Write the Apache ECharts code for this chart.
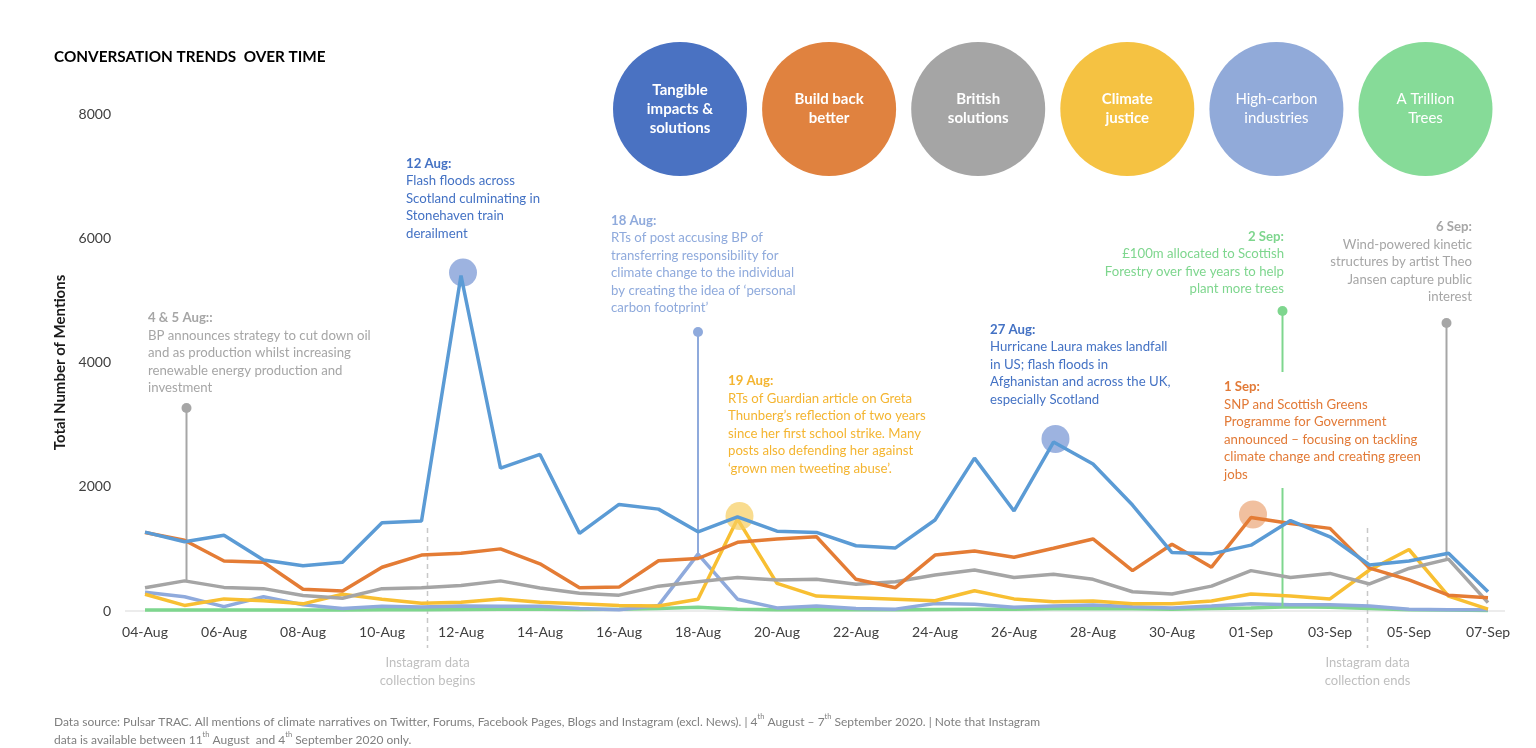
<!DOCTYPE html>
<html><head><meta charset="utf-8">
<script src="https://cdn.jsdelivr.net/npm/echarts@6/dist/echarts.min.js"></script>
<style>html,body{margin:0;padding:0;background:#fff}#c{width:1536px;height:748px}</style>
</head><body><div id="c"></div>
<script>
// ---------- data ----------
const dates = ['04-Aug','05-Aug','06-Aug','07-Aug','08-Aug','09-Aug','10-Aug','11-Aug','12-Aug','13-Aug',
  '14-Aug','15-Aug','16-Aug','17-Aug','18-Aug','19-Aug','20-Aug','21-Aug','22-Aug','23-Aug',
  '24-Aug','25-Aug','26-Aug','27-Aug','28-Aug','29-Aug','30-Aug','31-Aug',
  '01-Sep','02-Sep','03-Sep','04-Sep','05-Sep','06-Sep','07-Sep'];
const seriesNames = ['Tangible impacts & solutions','Build back better','British solutions','Climate justice','High-carbon industries','A Trillion Trees'];
const legendLabels = ['Tangible\nimpacts &\nsolutions','Build back\nbetter','British\nsolutions','Climate\njustice','High-carbon\nindustries','A Trillion\nTrees'];
const tangible   = [1270,1115,1220,820,730,785,1420,1450,5400,2300,2520,1250,1715,1640,1275,1515,1285,1265,1050,1015,1465,2460,1610,2720,2365,1705,940,920,1060,1455,1195,740,805,930,310];
const buildBack  = [1265,1140,805,785,350,320,705,900,930,1000,760,375,385,810,845,1105,1160,1195,510,375,900,965,865,1010,1160,650,1075,705,1505,1410,1330,690,500,255,215];
const british    = [375,485,380,360,250,205,360,375,410,485,370,285,255,400,470,540,500,510,430,470,580,660,540,590,510,310,275,400,650,540,605,435,685,835,135];
const climateJ   = [270,90,195,165,115,270,190,125,140,195,140,115,90,80,190,1480,445,240,215,190,165,325,195,150,160,115,115,160,275,240,195,660,990,240,30];
const highCarbon = [300,230,70,230,100,40,75,65,80,75,75,40,20,90,915,190,50,80,40,30,120,110,60,80,95,70,50,80,115,100,100,80,30,20,20];
const trees      = [15,15,15,15,15,15,20,20,25,30,30,25,30,40,60,30,20,20,20,20,25,30,30,35,40,35,30,40,50,70,60,40,20,15,10];
const yMin = 0, yMax = 8000, yStep = 2000;

// ---------- styles ----------
const FONT = 'Lato, "Open Sans", sans-serif';
const lineColors = ['#5B9BD5','#E47C35','#A5A5A5','#F8BF32','#8FAADC','#7ED68E'];
const circleColors = ['#4A72C2','#E0823F','#A5A5A5','#F5C242','#91AAD9','#86DB98'];
const allData = [tangible, buildBack, british, climateJ, highCarbon, trees];

const highlight = {
  0: [{coord:['12-Aug', tangible[8]], color:'rgba(140,166,218,0.85)'}, {coord:['27-Aug', tangible[23]], color:'rgba(140,166,218,0.85)'}],
  1: [{coord:['01-Sep', buildBack[28]], color:'rgba(232,150,95,0.6)'}],
  3: [{coord:['19-Aug', climateJ[15]], color:'rgba(246,205,95,0.7)'}]
};

const series = [];
[5,4,3,2,1,0].forEach(i => {
  const s = {
    name: seriesNames[i], type:'line', data: allData[i], showSymbol:false, smooth:false,
    lineStyle:{width:3.5, color: lineColors[i]}, itemStyle:{color: lineColors[i]}, z: 2 + (5-i)
  };
  if (highlight[i]) {
    s.markPoint = {
      symbol:'circle', symbolSize:28, symbolOffset:[2,-3], label:{show:false}, silent:true,
      data: highlight[i].map(h => ({coord:h.coord, itemStyle:{color:h.color}}))
    };
  }
  series.push(s);
});

const chart = echarts.init(document.getElementById('c'));
chart.setOption({
  animation:false,
  backgroundColor:'#fff',
  grid:{left:145, right:48, top:114, bottom:137},
  xAxis:{
    type:'category', data:dates, boundaryGap:false,
    axisLine:{show:false}, axisTick:{show:false},
    axisLabel:{interval:1, fontFamily:FONT, fontSize:14, color:'#404040', margin:14}
  },
  yAxis:{
    type:'value', min:yMin, max:yMax, interval:yStep,
    axisLine:{show:false}, axisTick:{show:false}, splitLine:{show:false},
    axisLabel:{fontFamily:FONT, fontSize:14, color:'#404040', margin:34, formatter: v => String(v)},
    name:'Total Number of Mentions', nameLocation:'middle', nameRotate:90, nameGap:66,
    nameTextStyle:{fontFamily:FONT, fontSize:15, fontWeight:'bold', color:'#1a1a1a'}
  },
  series: series
});

// ---------- annotations ----------
const px = (d, v) => chart.convertToPixel({gridIndex:0}, [d, v]);
const g = [];
const zeroL = px(dates[0], 0), zeroR = px(dates[dates.length-1], 0);
g.push({type:'line', shape:{x1:zeroL[0]-20, y1:zeroL[1], x2:zeroR[0]+17, y2:zeroR[1]}, style:{stroke:'#D9D9D9', lineWidth:1}, z:1});

// title
g.push({type:'text', style:{x:54, y:57, text:'CONVERSATION TRENDS  OVER TIME', font:'bold 15.3px '+FONT, fill:'#000', verticalAlign:'middle'}});

// legend circles
legendLabels.forEach((t, i) => {
  const cx = 680 + i*149.1, cy = 109;
  g.push({type:'circle', shape:{cx:cx, cy:cy, r:67}, style:{fill:circleColors[i]}});
  g.push({type:'text', style:{x:cx, y:cy, text:t, align:'center', verticalAlign:'middle',
    font:(i<4?'bold ':'')+'15px '+FONT, fill:'#fff', lineHeight:19}});
});

function note(x, yTop, head, lines, color, align) {
  const txt = ['{h|'+head+'}'].concat(lines.map(l => '{b|'+l+'}')).join('\n');
  g.push({type:'text', z:5, style:{x:x, y:yTop, text:txt, align:align||'left', verticalAlign:'top',
    rich:{h:{fontFamily:FONT, fontSize:13.2, fontWeight:'bold', fill:color, lineHeight:17.5},
          b:{fontFamily:FONT, fontSize:13.2, fill:color, lineHeight:17.5}}}});
}
note(148, 309, '4 & 5 Aug::', ['BP announces strategy to cut down oil','and as production whilst increasing','renewable energy production and','investment'], '#A6A6A6');
note(406, 154.5, '12 Aug:', ['Flash floods across','Scotland culminating in','Stonehaven train','derailment'], '#4472C4');
note(611, 211.5, '18 Aug:', ['RTs of post accusing BP of','transferring responsibility for','climate change to the individual','by creating the idea of \u2018personal','carbon footprint\u2019'], '#8FAADC');
note(728, 372, '19 Aug:', ['RTs of Guardian article on Greta','Thunberg\u2019s reflection of two years','since her first school strike. Many','posts also defending her against','\u2018grown men tweeting abuse\u2019.'], '#F4B531');
note(990, 320.5, '27 Aug:', ['Hurricane Laura makes landfall','in US; flash floods in','Afghanistan and across the UK,','especially Scotland'], '#4472C4');
note(1284, 227.5, '2 Sep:', ['\u00a3100m allocated to Scottish','Forestry over five years to help','plant more trees'], '#7ED68E', 'right');
note(1224, 378, '1 Sep:', ['SNP and Scottish Greens','Programme for Government','announced \u2013 focusing on tackling','climate change and creating green','jobs'], '#E27A37');
note(1472, 218, '6 Sep:', ['Wind-powered kinetic','structures by artist Theo','Jansen capture public','interest'], '#A6A6A6', 'right');

function pin(x, yTop, yBot, color, gaps) {
  const segs = gaps || [[yTop, yBot]];
  segs.forEach(s => g.push({type:'line', z:4, shape:{x1:x, y1:s[0], x2:x, y2:s[1]}, style:{stroke:color, lineWidth:2}}));
  g.push({type:'circle', z:4, shape:{cx:x, cy:yTop, r:5}, style:{fill:color}});
}
let p;
p = px('05-Aug', british[1]);   pin(p[0]+2, 408, p[1], '#A6A6A6');
p = px('18-Aug', highCarbon[14]); pin(p[0], 332, p[1], '#8FAADC');
p = px('02-Sep', trees[29]);    pin(p[0]-8, 311, p[1], '#7ED68E', [[311,372],[488,p[1]]]);
p = px('06-Sep', british[33]);  pin(p[0]-2, 323, p[1], '#A6A6A6');

// Instagram markers
function insta(x, label) {
  g.push({type:'line', z:1, shape:{x1:x, y1:528, x2:x, y2:648}, style:{stroke:'#C8C8C8', lineWidth:1.5, lineDash:[5,4]}});
  g.push({type:'text', style:{x:x, y:654, text:label, align:'center', verticalAlign:'top', font:'13px '+FONT, fill:'#BFBFBF', lineHeight:18}});
}
insta(px('11-Aug', 0)[0] + 6, 'Instagram data\ncollection begins');
insta(px('04-Sep', 0)[0] - 2, 'Instagram data\ncollection ends');

// footer
g.push({type:'text', style:{x:54, y:713, verticalAlign:'top',
  text:'{n|Data source: Pulsar TRAC. All mentions of climate narratives on Twitter, Forums, Facebook Pages, Blogs and Instagram (excl. News). | 4}{s|th}{n| August \u2013 7}{s|th}{n| September 2020. | Note that Instagram}\n{n|data is available between 11}{s|th}{n| August  and 4}{s|th}{n| September 2020 only.}',
  rich:{n:{fontFamily:FONT, fontSize:12, fill:'#7F7F7F', lineHeight:18},
        s:{fontFamily:FONT, fontSize:7.5, fill:'#7F7F7F', lineHeight:18, verticalAlign:'top', padding:[0,0,6,0]}}}});

chart.setOption({graphic: g.map(e => Object.assign({silent:true}, e))});
</script></body></html>
